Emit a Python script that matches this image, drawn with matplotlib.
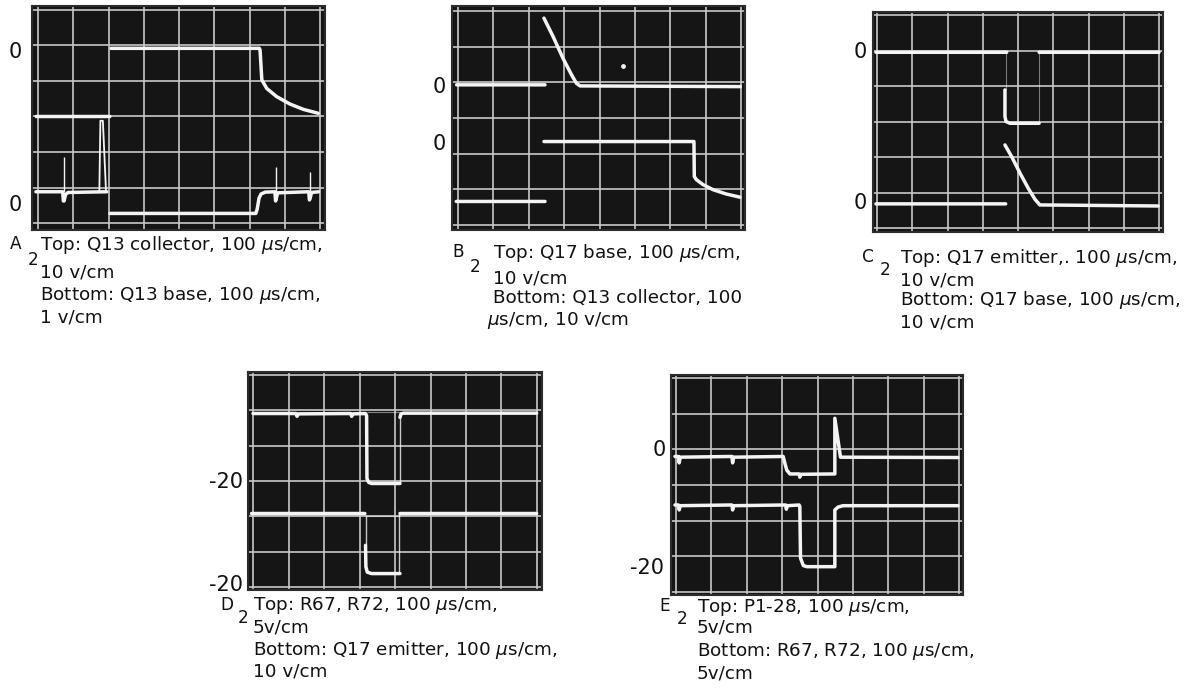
import matplotlib.pyplot as plt
import numpy as np

nan = np.nan
W, H = 1192, 694

# ---- traces, in screen divisions (x: 0..8, y: 0..6) ----
# A
a_top_x = [-0.05, 2.04, nan, 2.07, 6.28, 6.30, 6.35, 6.49, 6.77, 7.15, 7.53, 7.95]
a_top_y = [3.0, 3.0, nan, 4.92, 4.92, 4.87, 4.03, 3.79, 3.56, 3.35, 3.20, 3.09]
a_bot_x = [-0.06, 0.70, 0.72, 0.74, 0.78, 0.85, 1.95, nan, 2.04, 6.18, 6.22, 6.27, 6.33, 6.45,
           6.72, 6.74, 6.76, 6.80, 7.68, 7.70, 7.72, 7.76, 7.96]
a_bot_y = [0.88, 0.88, 0.62, 0.62, 0.80, 0.86, 0.88, nan, 0.27, 0.27, 0.40, 0.70, 0.82, 0.87,
           0.88, 0.62, 0.70, 0.85, 0.88, 0.65, 0.70, 0.86, 0.88]
a_pulse_x = [1.74, 1.77, 1.84, 1.93]
a_pulse_y = [0.88, 2.88, 2.88, 0.88]
a_spike_x = [0.73, 6.76, 7.73]
a_spike_lo = [0.88, 0.88, 0.88]
a_spike_hi = [1.87, 1.59, 1.45]

# B
b_top_x = [-0.04, 2.46, nan, 2.43, 2.69, 2.97, 3.21, 3.35, 3.45, 7.98]
b_top_y = [3.93, 3.93, nan, 5.80, 5.28, 4.67, 4.21, 3.97, 3.90, 3.88]
b_bot_x = [-0.05, 2.46, nan, 2.43, 6.67, 6.68, 6.74, 6.93, 7.21, 7.58, 7.97]
b_bot_y = [0.66, 0.66, nan, 2.34, 2.34, 1.36, 1.27, 1.13, 0.99, 0.87, 0.78]
b_dot_x = [4.67]
b_dot_y = [4.46]

# C
c_top_x = [-0.03, 3.68, nan, 3.63, 3.63, 3.66, 3.77, 4.60, nan, 4.60, 8.0]
c_top_y = [4.95, 4.95, nan, 3.89, 3.14, 3.00, 2.95, 2.95, nan, 4.95, 4.95]
c_edge_x = [3.65, 4.60]
c_edge_lo = [3.89, 2.95]
c_edge_hi = [4.95, 4.95]
c_bot_x = [-0.03, 3.65, nan, 3.63, 3.82, 4.06, 4.29, 4.48, 4.62, 7.98]
c_bot_y = [0.68, 0.68, nan, 2.34, 2.01, 1.54, 1.12, 0.81, 0.65, 0.62]

# D
d_top_x = [0.0, 1.21, 1.24, 1.28, 2.75, 2.78, 2.82, 3.17, 3.20, 3.21, 3.26, 3.34, 4.14,
           nan, 4.14, 4.17, 4.24, 7.99]
d_top_y = [4.91, 4.91, 4.83, 4.90, 4.91, 4.83, 4.90, 4.91, 4.85, 3.07, 2.96, 2.93, 2.93,
           nan, 4.80, 4.90, 4.92, 4.92]
d_bot_x = [-0.04, 3.15, nan, 3.17, 3.18, 3.22, 3.34, 4.14, nan, 4.14, 7.99]
d_bot_y = [2.08, 2.08, nan, 1.18, 0.57, 0.42, 0.38, 0.38, nan, 2.08, 2.08]
d_edge_x = [4.13, 4.12, 3.17]
d_edge_lo = [2.93, 0.38, 1.18]
d_edge_hi = [4.85, 2.08, 2.05]
d_retrace_x0 = [3.20, 3.17]
d_retrace_x1 = [4.14, 4.14]
d_retrace_y = [4.96, 2.00]

# E
e_top_x = [-0.03, 0.07, 0.09, 0.12, 1.58, 1.60, 1.63, 3.03, 3.08, 3.13, 3.22, 3.48, 3.50,
           3.53, 4.49, 4.49, 4.65, 7.97]
e_top_y = [3.80, 3.80, 3.62, 3.78, 3.80, 3.62, 3.78, 3.80, 3.60, 3.42, 3.31, 3.31, 3.22,
           3.30, 3.31, 4.87, 3.78, 3.77]
e_bot_x = [-0.03, 0.07, 0.09, 0.12, 1.58, 1.60, 1.63, 3.10, 3.12, 3.15, 3.48, 3.50, 3.52,
           3.60, 3.70, 4.49, 4.49, 4.58, 4.72, 7.97]
e_bot_y = [2.44, 2.44, 2.30, 2.42, 2.44, 2.30, 2.42, 2.44, 2.32, 2.42, 2.44, 2.40, 0.95,
           0.74, 0.71, 0.71, 2.30, 2.38, 2.42, 2.42]

# ---- labels ----
a_levels = ['0', '0']
b_levels = ['0', '0']
c_levels = ['0', '0']
d_levels = ['-20', '-20']
e_levels = ['0', '-20']

a_caption = ['Top: Q13 collector, 100 $\\mu$s/cm,', '10 v/cm',
             'Bottom: Q13 base, 100 $\\mu$s/cm,', '1 v/cm']
b_caption = ['Top: Q17 base, 100 $\\mu$s/cm,', '10 v/cm',
             'Bottom: Q13 collector, 100', '$\\mu$s/cm, 10 v/cm']
c_caption = ['Top: Q17 emitter,. 100 $\\mu$s/cm,', '10 v/cm',
             'Bottom: Q17 base, 100 $\\mu$s/cm,', '10 v/cm']
d_caption = ['Top: R67, R72, 100 $\\mu$s/cm,', '5v/cm',
             'Bottom: Q17 emitter, 100 $\\mu$s/cm,', '10 v/cm']
e_caption = ['Top: P1-28, 100 $\\mu$s/cm,', '5v/cm',
             'Bottom: R67, R72, 100 $\\mu$s/cm,', '5v/cm']

GRID = '#c9c9c9'
TRACE = '#f4f4f4'
SCREEN = '#151515'
CAP_SIZE = 13.2

plt.rcParams['font.family'] = ['DejaVu Sans']
plt.rcParams['mathtext.fontset'] = 'dejavusans'

fig = plt.figure(figsize=(W / 100, H / 100), dpi=100)
page = fig.add_axes([0, 0, 1, 1])
page.set_xlim(0, W)
page.set_ylim(H, 0)
page.axis('off')


def scope(box, grid):
    bx0, by0, bx1, by1 = box
    gx0, gy0, gx1, gy1 = grid
    ax = fig.add_axes([bx0 / W, 1 - by1 / H, (bx1 - bx0) / W, (by1 - by0) / H])
    sx = (gx1 - gx0) / 8
    sy = (gy1 - gy0) / 6
    ax.set_xlim((bx0 - gx0) / sx, 8 + (bx1 - gx1) / sx)
    ax.set_ylim(-(by1 - gy1) / sy, 6 + (gy0 - by0) / sy)
    ax.set_facecolor(SCREEN)
    for i in range(9):
        ax.axvline(i, color=GRID, lw=1.2, zorder=1)
    for j in range(7):
        ax.axhline(j, color=GRID, lw=1.2, zorder=1)
    ax.set_xticks([])
    ax.set_yticks([])
    for s in ax.spines.values():
        s.set_color('#2c2c2c')
        s.set_linewidth(1.5)
    return ax


def trace(ax, x, y, lw=2.5):
    ax.plot(x, y, color=TRACE, lw=lw, solid_capstyle='round',
            solid_joinstyle='round', zorder=3)


def caption(letter, lines, lx, x, ys):
    page.text(lx, ys[0] - 1, letter, fontsize=CAP_SIZE - 1, va='center', ha='left',
              color='#111111')
    page.text(lx + 18, (ys[0] + ys[1]) / 2 + 1, '2', fontsize=CAP_SIZE - 1, va='center',
              ha='left', color='#111111')
    for k, line in enumerate(lines):
        xx = x - 6 if line.startswith('$') else x
        page.text(xx, ys[k], line, fontsize=CAP_SIZE, va='center', ha='left', color='#111111')


def levels(texts, x, ys, ha='center'):
    for t, y in zip(texts, ys):
        page.text(x, y, t, fontsize=15, va='center', ha=ha, color='#111111')


# A
ax = scope((32, 6, 325, 230), (38, 10, 320, 223))
trace(ax, a_top_x, a_top_y)
trace(ax, a_bot_x, a_bot_y)
ax.plot(a_pulse_x, a_pulse_y, color=TRACE, lw=1.3, zorder=3)
ax.vlines(a_spike_x, a_spike_lo, a_spike_hi, color=TRACE, lw=1.0, zorder=3)
levels(a_levels, 15, [52, 205])
caption('A', a_caption, 10, 40, [245, 272, 295, 317])

# B
ax = scope((452, 6, 745, 230), (458, 11, 741, 225))
trace(ax, b_top_x, b_top_y)
trace(ax, b_bot_x, b_bot_y)
ax.scatter(b_dot_x, b_dot_y, s=6, color=TRACE, zorder=3)
levels(b_levels, 439, [87, 144])
caption('B', b_caption, 452, 493, [253, 278, 298, 320])

# C
ax = scope((873, 12, 1163, 232), (877, 15, 1159, 228))
trace(ax, c_top_x, c_top_y)
trace(ax, c_bot_x, c_bot_y)
ax.vlines(c_edge_x, c_edge_lo, c_edge_hi, color=TRACE, lw=0.8, alpha=0.45, zorder=2)
levels(c_levels, 860, [52, 203])
caption('C', c_caption, 862, 900, [258, 280, 300, 322])

# D
ax = scope((248, 372, 542, 590), (253, 375, 537, 587))
trace(ax, d_top_x, d_top_y)
trace(ax, d_bot_x, d_bot_y)
ax.vlines(d_edge_x, d_edge_lo, d_edge_hi, color=TRACE, lw=1.0, alpha=0.8, zorder=2)
ax.hlines(d_retrace_y, d_retrace_x0, d_retrace_x1, color=TRACE, lw=0.8, alpha=0.5, zorder=2)
levels(d_levels, 243, [482, 585], ha='right')
caption('D', d_caption, 220, 253, [606, 628, 650, 672])

# E
ax = scope((671, 375, 963, 595), (676, 378, 959, 592))
trace(ax, e_top_x, e_top_y)
trace(ax, e_bot_x, e_bot_y)
page.text(659, 450, e_levels[0], fontsize=15, va='center', ha='center', color='#111111')
page.text(664, 568, e_levels[1], fontsize=15, va='center', ha='right', color='#111111')
caption('E', e_caption, 659, 697, [607, 628, 652, 673])

fig.savefig('out.png', dpi=100, facecolor='white')
